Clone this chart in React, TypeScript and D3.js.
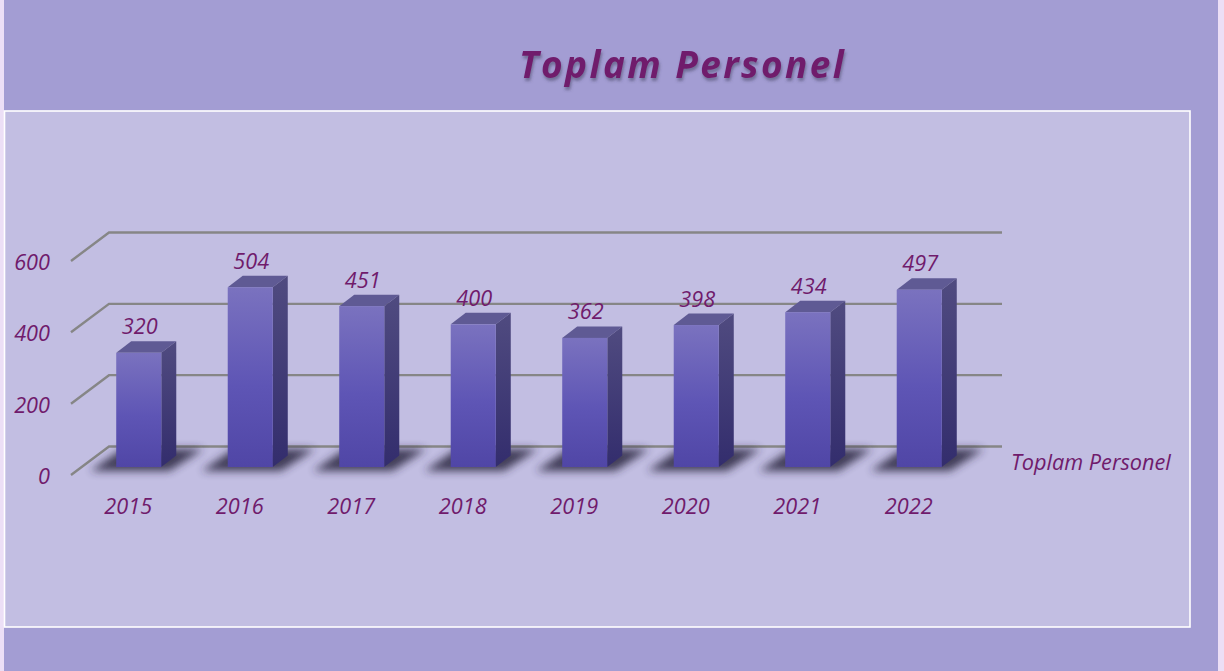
import React from "react"
import * as d3 from "d3"

const years = ["2015", "2016", "2017", "2018", "2019", "2020", "2021", "2022"]
const totals = [320, 504, 451, 400, 362, 398, 434, 497]
const yTicks = [0, 200, 400, 600]
const title = "Toplam Personel"
const seriesName = "Toplam Personel"

const width = 1224
const height = 671
const font = "'Open Sans', sans-serif"
const textColor = "#701b6c"
const labelSize = 21.7

// depth of the fake 3d box
const depthX = 15
const depthY = 11.5
// floor offset, the gridlines sit further back than the bars
const wallX = 38
const wallY = 28.5

const x = d3.scaleBand().domain(years).range([83, 975]).paddingInner(0.596).paddingOuter(0.298)
const y = d3.scaleLinear().domain([0, 600]).range([467, 253])

const poly = (pts: number[][]) => d3.line()(pts as [number, number][]) + "Z"

export default function App() {
  const bw = x.bandwidth()
  return (
    <svg width={width} height={height} style={{ position: "absolute", left: 0, top: 0, display: "block" }}>
      <defs>
        <linearGradient id="front" x1="0" y1="0" x2="0" y2="1">
          <stop offset="0" stopColor="#7a72bf" />
          <stop offset="0.55" stopColor="#5e55b5" />
          <stop offset="1" stopColor="#5046a6" />
        </linearGradient>
        <linearGradient id="side" x1="0" y1="0" x2="0" y2="1">
          <stop offset="0" stopColor="#504b80" />
          <stop offset="1" stopColor="#332d6d" />
        </linearGradient>
        <filter id="blur" x="-30%" y="-60%" width="160%" height="220%">
          <feGaussianBlur stdDeviation="4" />
        </filter>
        <filter id="titleShadow" x="-5%" y="-20%" width="110%" height="150%">
          <feDropShadow dx="1" dy="3" stdDeviation="1.6" floodColor="#3c3a5a" floodOpacity="0.5" />
        </filter>
      </defs>

      <rect width={width} height={height} fill="#ecdff6" />
      <rect x={4} width={1214} height={height} fill="#a39dd3" />
      <rect x={4.5} y={111} width={1185.5} height={516} fill="#c2bee2" stroke="#ffffff" strokeWidth={1.6} />

      <text x={519} y={78} fontFamily={font} fontWeight={700} fontStyle="italic" fontSize={37}
        letterSpacing={2.4} fill={textColor} filter="url(#titleShadow)">{title}</text>

      {yTicks.map(t => (
        <g key={t}>
          <path
            d={`M71,${y(t) + wallY - 20 - 0.5}L${71 + wallX},${y(t) - 20 - 0.5}H1002`}
            fill="none" stroke="#868686" strokeWidth={2.4} />
          <text x={50} y={y(t) + 17} textAnchor="end" fontFamily={font} fontStyle="italic"
            fontSize={labelSize} fill={textColor}>{t}</text>
        </g>
      ))}

      {years.map(yr => {
        const x0 = x(yr)!
        return (
          <path key={yr} filter="url(#blur)" fill="#2a2740" opacity={0.85}
            d={poly([[x0 - 26, y(0) + 4], [x0 + bw + 8, y(0) + 4], [x0 + bw + 42, y(0) - 18], [x0 + 6, y(0) - 18]])} />
        )
      })}

      {years.map((yr, i) => {
        const x0 = x(yr)!
        const x1 = x0 + bw
        const top = y(totals[i])
        const base = y(0)
        return (
          <g key={yr}>
            <path fill="#5f5a94" d={poly([[x0, top], [x1, top], [x1 + depthX, top - depthY], [x0 + depthX, top - depthY]])} />
            <path fill="url(#side)" d={poly([[x1, top], [x1 + depthX, top - depthY], [x1 + depthX, base - depthY], [x1, base]])} />
            <rect x={x0} y={top} width={bw} height={base - top} fill="url(#front)" />
            <text x={x0 + bw / 2 + 1} y={top - 18.5} textAnchor="middle" fontFamily={font} fontStyle="italic"
              fontSize={labelSize} fill={textColor}>{totals[i]}</text>
            <text x={x0 + bw / 2 - 10.5} y={513.5} textAnchor="middle" fontFamily={font} fontStyle="italic"
              fontSize={labelSize} fill={textColor}>{yr}</text>
          </g>
        )
      })}

      <text x={1011} y={470} fontFamily={font} fontStyle="italic" fontSize={labelSize} fill={textColor}>{seriesName}</text>
    </svg>
  )
}
